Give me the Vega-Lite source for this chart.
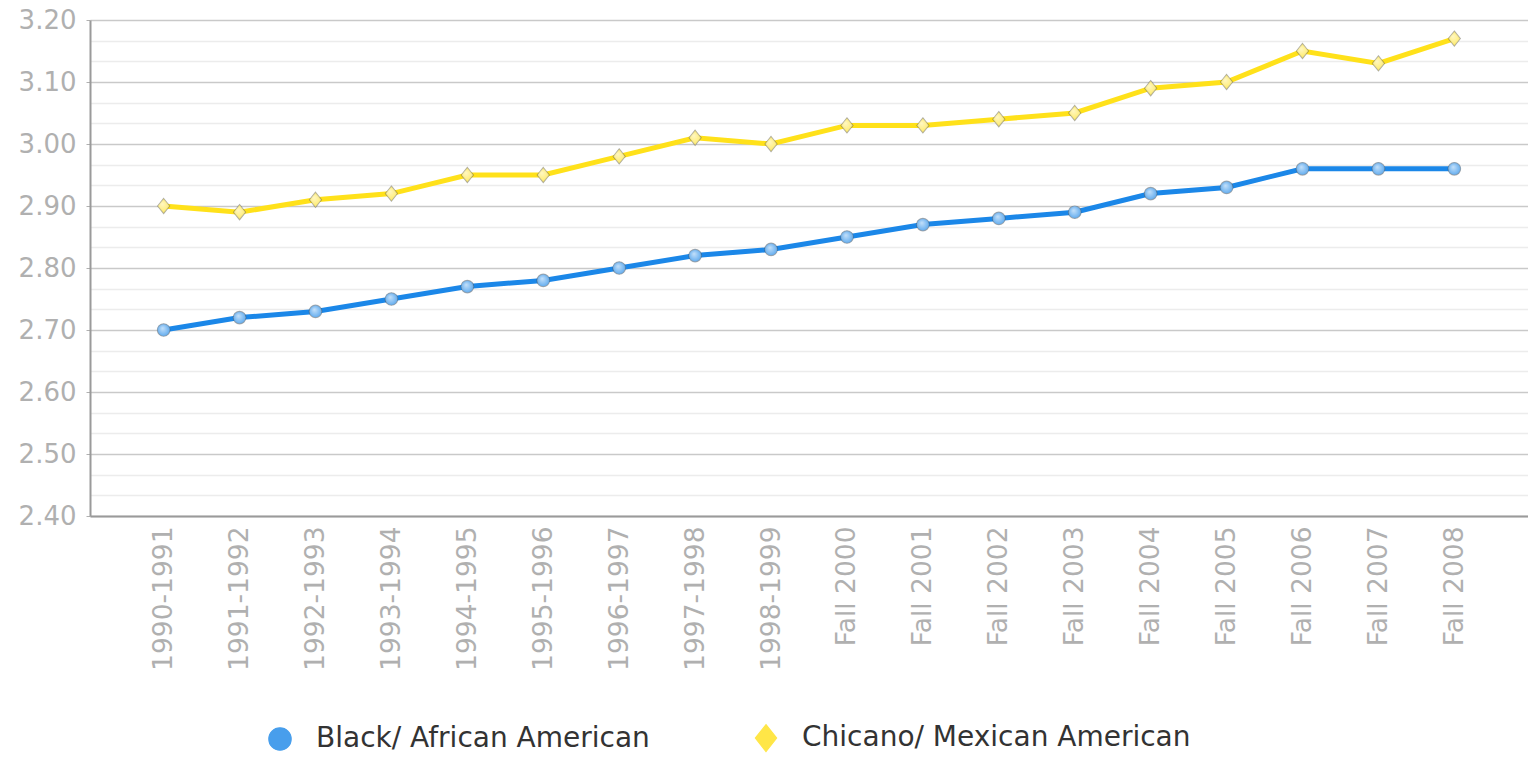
{
  "$schema": "https://vega.github.io/schema/vega-lite/v6.json",
  "width": 1438,
  "height": 496,
  "autosize": "none",
  "padding": {"left": 90, "top": 20, "right": 0, "bottom": 241},
  "background": "white",
  "config": {
    "font": "DejaVu Sans",
    "view": {"stroke": null},
    "axis": {"labelFont": "DejaVu Sans"},
    "legend": {
      "labelFont": "DejaVu Sans",
      "labelFontSize": 28,
      "labelColor": "#333333",
      "labelLimit": 0,
      "symbolSize": 500,
      "symbolOpacity": 0.8,
      "symbolStrokeWidth": 1.2,
      "labelOffset": 22,
      "columnPadding": 102
    }
  },
  "data": {
    "values": [
      {"period": "1990-1991", "group": "Black/ African American", "gpa": 2.70},
      {"period": "1991-1992", "group": "Black/ African American", "gpa": 2.72},
      {"period": "1992-1993", "group": "Black/ African American", "gpa": 2.73},
      {"period": "1993-1994", "group": "Black/ African American", "gpa": 2.75},
      {"period": "1994-1995", "group": "Black/ African American", "gpa": 2.77},
      {"period": "1995-1996", "group": "Black/ African American", "gpa": 2.78},
      {"period": "1996-1997", "group": "Black/ African American", "gpa": 2.80},
      {"period": "1997-1998", "group": "Black/ African American", "gpa": 2.82},
      {"period": "1998-1999", "group": "Black/ African American", "gpa": 2.83},
      {"period": "Fall 2000", "group": "Black/ African American", "gpa": 2.85},
      {"period": "Fall 2001", "group": "Black/ African American", "gpa": 2.87},
      {"period": "Fall 2002", "group": "Black/ African American", "gpa": 2.88},
      {"period": "Fall 2003", "group": "Black/ African American", "gpa": 2.89},
      {"period": "Fall 2004", "group": "Black/ African American", "gpa": 2.92},
      {"period": "Fall 2005", "group": "Black/ African American", "gpa": 2.93},
      {"period": "Fall 2006", "group": "Black/ African American", "gpa": 2.96},
      {"period": "Fall 2007", "group": "Black/ African American", "gpa": 2.96},
      {"period": "Fall 2008", "group": "Black/ African American", "gpa": 2.96},
      {"period": "1990-1991", "group": "Chicano/ Mexican American", "gpa": 2.90},
      {"period": "1991-1992", "group": "Chicano/ Mexican American", "gpa": 2.89},
      {"period": "1992-1993", "group": "Chicano/ Mexican American", "gpa": 2.91},
      {"period": "1993-1994", "group": "Chicano/ Mexican American", "gpa": 2.92},
      {"period": "1994-1995", "group": "Chicano/ Mexican American", "gpa": 2.95},
      {"period": "1995-1996", "group": "Chicano/ Mexican American", "gpa": 2.95},
      {"period": "1996-1997", "group": "Chicano/ Mexican American", "gpa": 2.98},
      {"period": "1997-1998", "group": "Chicano/ Mexican American", "gpa": 3.01},
      {"period": "1998-1999", "group": "Chicano/ Mexican American", "gpa": 3.00},
      {"period": "Fall 2000", "group": "Chicano/ Mexican American", "gpa": 3.03},
      {"period": "Fall 2001", "group": "Chicano/ Mexican American", "gpa": 3.03},
      {"period": "Fall 2002", "group": "Chicano/ Mexican American", "gpa": 3.04},
      {"period": "Fall 2003", "group": "Chicano/ Mexican American", "gpa": 3.05},
      {"period": "Fall 2004", "group": "Chicano/ Mexican American", "gpa": 3.09},
      {"period": "Fall 2005", "group": "Chicano/ Mexican American", "gpa": 3.10},
      {"period": "Fall 2006", "group": "Chicano/ Mexican American", "gpa": 3.15},
      {"period": "Fall 2007", "group": "Chicano/ Mexican American", "gpa": 3.13},
      {"period": "Fall 2008", "group": "Chicano/ Mexican American", "gpa": 3.17}
    ]
  },
  "encoding": {
    "x": {
      "field": "period",
      "type": "ordinal",
      "sort": null,
      "scale": {"type": "point", "padding": 0.97},
      "axis": {
        "title": null,
        "labelAngle": -90,
        "labelFontSize": 26.5,
        "labelColor": "#b0b0b0",
        "labelPadding": 10,
        "ticks": false,
        "grid": false,
        "domainColor": "#9a9a9a",
        "domainWidth": 2
      }
    },
    "y": {
      "field": "gpa",
      "type": "quantitative",
      "scale": {"domain": [2.4, 3.2], "nice": false, "zero": false},
      "axis": {
        "title": null,
        "values": [2.4, 2.43333, 2.46667, 2.5, 2.53333, 2.56667, 2.6, 2.63333, 2.66667, 2.7, 2.73333, 2.76667, 2.8, 2.83333, 2.86667, 2.9, 2.93333, 2.96667, 3.0, 3.03333, 3.06667, 3.1, 3.13333, 3.16667, 3.2],
        "labelExpr": "abs(datum.value * 10 - round(datum.value * 10)) < 0.01 ? format(datum.value, '.2f') : ''",
        "labelFontSize": 26,
        "labelColor": "#b0b0b0",
        "labelPadding": 10,
        "tickSize": 4,
        "tickColor": {
          "condition": {"test": "abs(datum.value * 10 - round(datum.value * 10)) < 0.01", "value": "#b0b0b0"},
          "value": "rgba(0,0,0,0)"
        },
        "grid": true,
        "gridWidth": 1.5,
        "gridColor": {
          "condition": {"test": "abs(datum.value * 10 - round(datum.value * 10)) < 0.01", "value": "#c9c9c9"},
          "value": "#ececec"
        },
        "domainColor": "#9a9a9a",
        "domainWidth": 2
      }
    },
    "color": {
      "field": "group",
      "type": "nominal",
      "scale": {"domain": ["Black/ African American", "Chicano/ Mexican American"], "range": ["#1b87e8", "#ffe11a"]},
      "legend": {"title": null, "orient": "none", "direction": "horizontal", "legendX": 176, "legendY": 704}
    },
    "shape": {
      "field": "group",
      "type": "nominal",
      "scale": {"domain": ["Black/ African American", "Chicano/ Mexican American"], "range": ["circle", "M0,-1.2L0.95,0L0,1.2L-0.95,0Z"]},
      "legend": {"title": null, "orient": "none", "direction": "horizontal", "legendX": 176, "legendY": 704}
    }
  },
  "layer": [
    {
      "mark": {"type": "line", "strokeWidth": 5}
    },
    {
      "mark": {"type": "point", "filled": true, "size": 155, "stroke": "#4a4a4a", "strokeOpacity": 0.45, "strokeWidth": 1.2, "opacity": 1}
    },
    {
      "mark": {
        "type": "point",
        "filled": true,
        "size": 155,
        "opacity": 1,
        "fill": {
          "gradient": "radial",
          "x1": 0.4, "y1": 0.35, "r1": 0,
          "x2": 0.5, "y2": 0.5, "r2": 0.6,
          "stops": [
            {"offset": 0, "color": "rgba(255,255,255,0.75)"},
            {"offset": 1, "color": "rgba(255,255,255,0.25)"}
          ]
        }
      }
    }
  ]
}
